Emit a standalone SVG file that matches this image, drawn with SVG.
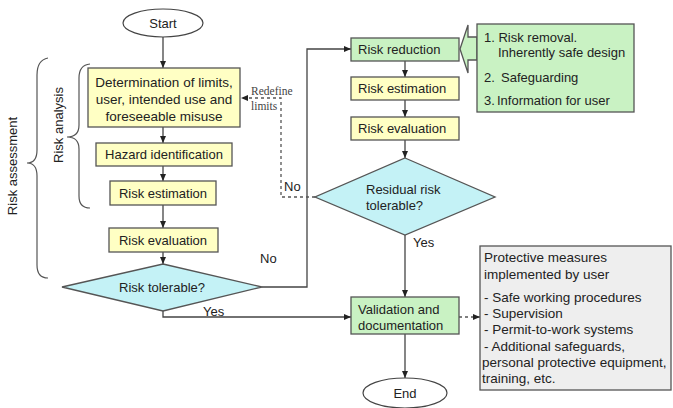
<svg xmlns="http://www.w3.org/2000/svg" width="673" height="408" viewBox="0 0 673 408">
<style>
text{font-family:"Liberation Sans",Arial,sans-serif;font-size:13px;fill:#222}
.y{fill:#FFFFC4;stroke:#555;stroke-width:1.3}
.g{fill:#C9F2C3;stroke:#555;stroke-width:1.3}
.c{fill:#C4F2F6;stroke:#555;stroke-width:1.3}
.w{fill:#fff;stroke:#444;stroke-width:1.2}
.gr{fill:#EEEEEE;stroke:#555;stroke-width:1.3}
.ln{fill:none;stroke:#444;stroke-width:1.3}
.ds{fill:none;stroke:#555;stroke-width:1.3;stroke-dasharray:3,3}
.br{fill:none;stroke:#555;stroke-width:1.2}
.m{text-anchor:middle}
.s{font-family:"Liberation Serif","Times New Roman",serif;font-size:11.5px;fill:#444}
</style>
<defs>
<marker id="a" markerUnits="userSpaceOnUse" markerWidth="7" markerHeight="7" refX="7" refY="3" orient="auto">
<path d="M0,0 L7,3 L0,6 z" fill="#222"/>
</marker>
</defs>

<g id="braces">
<path class="br" d="M48,58 Q37,60 37,75 L37,150 Q37,163 27,163 Q37,163 37,176 L37,265 Q37,278 48,278"/>
<path class="br" d="M90,64 Q79,65 79,78 L79,125 Q79,137 67,137 Q79,137 79,149 L79,196 Q79,208 90,208"/>
<text class="m" transform="translate(17,166) rotate(-90)">Risk assessment</text>
<text class="m" transform="translate(63,125) rotate(-90)">Risk analysis</text>
</g>

<g id="connectors">
<path class="ln" d="M163,37 V68" marker-end="url(#a)"/>
<path class="ln" d="M163,127 V143" marker-end="url(#a)"/>
<path class="ln" d="M163,166 V181" marker-end="url(#a)"/>
<path class="ln" d="M163,205 V228" marker-end="url(#a)"/>
<path class="ln" d="M163,252 V264" marker-end="url(#a)"/>
<path class="ln" d="M262,287 H307 V49 H351" marker-end="url(#a)"/>
<path class="ln" d="M163,311 V317 H351" marker-end="url(#a)"/>
<path class="ln" d="M405,61 V77" marker-end="url(#a)"/>
<path class="ln" d="M405,100 V117" marker-end="url(#a)"/>
<path class="ln" d="M405,140 V158" marker-end="url(#a)"/>
<path class="ln" d="M405,235 V297" marker-end="url(#a)"/>
<path class="ln" d="M405,334 V378" marker-end="url(#a)"/>
<path class="ds" d="M315,197 H281 V98 H241" marker-end="url(#a)"/>
<path class="ds" d="M459,317 H480" marker-end="url(#a)"/>
<text x="260" y="263">No</text>
<text x="203" y="316">Yes</text>
<text x="284" y="191">No</text>
<text x="413" y="247">Yes</text>
<text class="s" x="251" y="95">Redefine</text>
<text class="s" x="251" y="110">limits</text>
</g>

<g id="start">
<ellipse class="w" cx="163" cy="23" rx="40" ry="14"/>
<text class="m" x="163" y="28">Start</text>
</g>

<g id="limits">
<rect class="y" x="88" y="68" width="152" height="59"/>
<text class="m" x="164" y="87" style="font-size:13.5px">Determination of limits,</text>
<text class="m" x="164" y="104" style="font-size:13.5px">user, intended use and</text>
<text class="m" x="164" y="121" style="font-size:13.5px">foreseeable misuse</text>
</g>

<g id="hazard">
<rect class="y" x="96" y="143" width="136" height="23"/>
<text class="m" x="164" y="159">Hazard identification</text>
</g>

<g id="estimation1">
<rect class="y" x="110" y="181" width="106" height="24"/>
<text class="m" x="163" y="198">Risk estimation</text>
</g>

<g id="evaluation1">
<rect class="y" x="109" y="228" width="109" height="24"/>
<text class="m" x="163" y="245">Risk evaluation</text>
</g>

<g id="tolerable">
<polygon class="c" points="163,264 262,287 163,311 62,287"/>
<text class="m" x="162" y="292">Risk tolerable?</text>
</g>

<g id="reduction">
<rect class="g" x="351" y="38" width="108" height="23"/>
<text x="358" y="54">Risk reduction</text>
</g>

<g id="measures">
<polygon class="g" points="460,49 468,25 468,37 477,37 477,60 468,60 468,73"/>
<rect class="g" x="477" y="24" width="157" height="88"/>
<text x="484" y="42">1. Risk removal.</text>
<text x="498" y="57">Inherently safe design</text>
<text x="484" y="82">2.</text>
<text x="501" y="82">Safeguarding</text>
<text x="484" y="105">3.</text>
<text x="497" y="105">Information for user</text>
</g>

<g id="estimation2">
<rect class="y" x="351" y="77" width="108" height="23"/>
<text x="358" y="93">Risk estimation</text>
</g>

<g id="evaluation2">
<rect class="y" x="351" y="117" width="108" height="23"/>
<text x="358" y="133">Risk evaluation</text>
</g>

<g id="residual">
<polygon class="c" points="405,158 495,197 405,235 315,197"/>
<text x="366" y="194">Residual risk</text>
<text x="366" y="210">tolerable?</text>
</g>

<g id="validation">
<rect class="g" x="351" y="297" width="108" height="37"/>
<text x="358" y="314">Validation and</text>
<text x="358" y="330">documentation</text>
</g>

<g id="user">
<rect class="gr" x="480" y="246" width="191" height="144"/>
<g style="font-size:13.5px">
<text x="484" y="262" style="font-size:13.5px">Protective measures</text>
<text x="484" y="279" style="font-size:13.5px">implemented by user</text>
<text x="484" y="302" style="font-size:13.5px">- Safe working procedures</text>
<text x="484" y="318" style="font-size:13.5px">- Supervision</text>
<text x="484" y="334" style="font-size:13.5px">- Permit-to-work systems</text>
<text x="484" y="351" style="font-size:13.5px">- Additional safeguards,</text>
<text x="482" y="367" style="font-size:13.5px">personal protective equipment,</text>
<text x="482" y="383" style="font-size:13.5px">training, etc.</text>
</g>
</g>

<g id="end">
<ellipse class="w" cx="405" cy="393" rx="42" ry="15"/>
<text class="m" x="405" y="398">End</text>
</g>
</svg>
